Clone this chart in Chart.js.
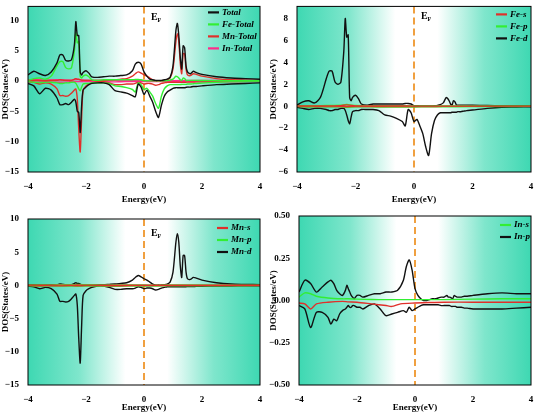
<!DOCTYPE html>
<html><head><meta charset="utf-8">
<script src="https://cdn.jsdelivr.net/npm/chart.js@4.4.0/dist/chart.umd.min.js"></script>
<style>body{margin:0;background:#fff;width:535px;height:413px;position:relative;overflow:hidden}
canvas{position:absolute}</style></head><body>
<canvas id="c1" style="left:0;top:0"></canvas>
<canvas id="c2" style="left:268px;top:0"></canvas>
<canvas id="c3" style="left:0;top:205px"></canvas>
<canvas id="c4" style="left:268px;top:205px"></canvas>
<script>
// fine energy grid (eV)
const E = [-4,-3.8,-3.6,-3.4,-3.2,-3.0,-2.9,-2.8,-2.7,-2.6,-2.5,-2.4,-2.35,-2.3,-2.25,-2.2,-2.15,-2.1,-2.0,-1.9,-1.8,-1.6,-1.4,-1.2,-1.0,-0.8,-0.6,-0.4,-0.3,-0.2,-0.1,0,0.1,0.2,0.3,0.4,0.5,0.6,0.7,0.8,0.9,1.0,1.1,1.15,1.2,1.25,1.3,1.35,1.4,1.45,1.5,1.6,1.7,1.8,2.0,2.5,3.0,3.5,4.0];
// coarse grid for small partial states
const EC = [-4,-3.8,-3.6,-3.4,-3,-2.5,-2.3,-2,-1.5,-1,-0.8,-0.5,0,0.5,1,2,3,4];

const totalUp = [1.0,1.6,1.2,0.9,1.5,3.0,4.3,4.3,3.4,3.3,3.5,6,9.8,7.5,7.5,1.5,1.0,1.4,1.7,1.3,0.7,0.6,0.7,0.8,0.8,0.9,1.0,1.7,2.8,3.1,2.8,1.5,0.8,0.3,0.2,0.1,0.1,0.1,0.2,0.3,0.6,2.5,8.3,9.5,7.5,4,2,5.8,5.5,2.5,1.5,1.2,1.6,1.4,1.1,0.7,0.5,0.4,0.3];
const totalDn = [-0.4,-0.8,-2.1,-1.2,-1.5,-2.8,-3.9,-3.9,-3.7,-3.9,-3.5,-3.0,-3.5,-5,-5.2,-8.5,-4,-1.5,-1.0,-0.6,-0.4,-0.3,-0.3,-0.6,-1.6,-1.8,-2.0,-2.4,-2.6,-0.5,-1.0,-2.2,-1.5,-2.5,-3.5,-5.0,-6.0,-4.0,-2.5,-1.8,-1.5,-1.2,-1.1,-1.1,-1.1,-1.1,-1.1,-1.1,-1.1,-1.05,-1.0,-1.0,-0.9,-0.9,-0.8,-0.6,-0.5,-0.4,-0.3];
const feUp = [0.1,0.4,0.5,0.3,0.8,2.5,3.2,3.2,2.2,2.0,2.2,5,8,6.3,6.5,0.8,0.5,0.8,1.0,0.7,0.2,0.1,0.2,0.2,0.2,0.2,0.2,0.2,0.25,0.25,0.2,0.05,0.05,0.03,0.03,0.03,0.03,0.03,0.05,0.08,0.15,0.3,0.8,0.7,0.5,0.2,0.1,0.5,0.4,0.1,0.1,0.1,0.1,0.1,0.08,0.06,0.05,0.05,0.05];
const feDn = [-0.1,-0.2,-0.3,-0.2,-0.2,-0.3,-0.4,-0.4,-0.3,-0.3,-0.2,-0.2,-0.4,-0.8,-1.3,-1.6,-1.0,-0.5,-0.4,-0.4,-0.3,-0.3,-0.3,-0.4,-0.8,-0.9,-1.1,-1.4,-1.8,-0.3,-0.6,-1.4,-1.2,-1.8,-2.5,-3.7,-4.5,-2.5,-1.3,-0.8,-0.6,-0.6,-0.6,-0.6,-0.6,-0.6,-0.55,-0.55,-0.55,-0.55,-0.5,-0.5,-0.45,-0.4,-0.35,-0.2,-0.1,-0.08,-0.05];
const mnUp = [0.1,0.1,0.05,0.05,0.1,0.1,0.2,0.15,0.1,0.1,0.1,0.3,0.4,0.3,0.3,0.2,0.1,0.1,0.1,0.1,0.1,0.1,0.1,0.15,0.2,0.3,0.4,0.8,1.2,1.5,1.3,1.0,0.8,0.5,0.2,0.05,0.05,0.05,0.1,0.2,0.5,2,6.5,7.8,6.5,3,1.2,4.5,4.5,2,1.0,0.9,1.2,1.1,0.8,0.4,0.2,0.15,0.1];
const mnDn = [-0.1,-0.2,-0.5,-0.3,-0.5,-1.3,-2.4,-2.4,-2.5,-2.4,-2.0,-1.5,-1.3,-3,-8,-11.7,-6,-1.5,-0.8,-0.5,-0.3,-0.1,-0.1,-0.3,-0.6,-0.6,-0.5,-0.5,-0.4,-0.2,-0.3,-0.5,-0.4,-0.4,-0.5,-0.7,-0.6,-0.4,-0.3,-0.2,-0.2,-0.2,-0.2,-0.2,-0.2,-0.2,-0.2,-0.2,-0.2,-0.2,-0.18,-0.17,-0.16,-0.15,-0.13,-0.1,-0.08,-0.06,-0.05];
const inUp = [0.15,0.2,0.2,0.15,0.2,0.15,0.25,0.15,0.1,0.1,0.08,0.1,0.08,0.06,0.07,0.08,0.08,0.08];
const inDn = [-0.1,-0.15,-0.25,-0.12,-0.2,-0.12,-0.1,-0.08,-0.1,-0.15,-0.12,-0.1,-0.1,-0.08,-0.08,-0.1,-0.1,-0.08];
const fesUp = [0.02,0.03,0.03,0.02,0.03,0.05,0.12,0.03,0.02,0.02,0.02,0.02,0.01,0.01,0.01,0.01,0.01,0.01];
const fesDn = [-0.02,-0.03,-0.04,-0.03,-0.03,-0.03,-0.05,-0.03,-0.03,-0.04,-0.04,-0.04,-0.03,-0.03,-0.02,-0.02,-0.01,-0.01];
const fepUp = [0.03,0.05,0.05,0.04,0.06,0.08,0.15,0.06,0.05,0.05,0.04,0.04,0.03,0.02,0.03,0.03,0.02,0.02];
const fepDn = [-0.03,-0.05,-0.08,-0.05,-0.06,-0.06,-0.1,-0.06,-0.06,-0.08,-0.08,-0.08,-0.07,-0.06,-0.05,-0.04,-0.03,-0.02];
const mnsUp = [0.03,0.04,0.03,0.03,0.04,0.03,0.05,0.04,0.03,0.03,0.03,0.03,0.02,0.02,0.02,0.02,0.02,0.02];
const mnsDn = [-0.03,-0.04,-0.06,-0.04,-0.05,-0.04,-0.05,-0.04,-0.04,-0.05,-0.05,-0.04,-0.04,-0.04,-0.03,-0.03,-0.02,-0.02];
const mnpUp = [0.05,0.08,0.06,0.05,0.1,0.1,0.15,0.1,0.08,0.08,0.07,0.07,0.05,0.04,0.06,0.05,0.04,0.03];
const mnpDn = [-0.05,-0.1,-0.15,-0.08,-0.1,-0.1,-0.12,-0.1,-0.1,-0.15,-0.12,-0.1,-0.08,-0.08,-0.06,-0.06,-0.05,-0.04];
const inpUp = [0.05,0.12,0.1,0.05,0.08,0.11,0.12,0.10,0.06,0.04,0.03,0.06,0.09,0.07,0.05,0.03,0.02,0.01,0.03,0.03,0.02,0.03,0.04,0.04,0.05,0.05,0.06,0.12,0.2,0.24,0.18,0.07,0.03,0.01,0.0,0.0,0.005,0.01,0.01,0.015,0.02,0.02,0.03,0.02,0.02,0.015,0.01,0.03,0.025,0.02,0.02,0.02,0.025,0.025,0.03,0.04,0.045,0.04,0.04];
const inpDn = [-0.03,-0.05,-0.16,-0.07,-0.07,-0.1,-0.14,-0.11,-0.12,-0.08,-0.06,-0.05,-0.04,-0.03,-0.04,-0.04,-0.03,-0.03,-0.04,-0.04,-0.05,-0.03,-0.02,-0.05,-0.09,-0.08,-0.07,-0.06,-0.07,-0.04,-0.06,-0.05,-0.04,-0.03,-0.025,-0.025,-0.025,-0.025,-0.025,-0.025,-0.03,-0.03,-0.03,-0.03,-0.03,-0.035,-0.035,-0.035,-0.035,-0.04,-0.04,-0.04,-0.045,-0.045,-0.05,-0.05,-0.05,-0.045,-0.04];
const insUp = [0.02,0.045,0.04,0.025,0.015,0.01,0.01,0.008,0.006,0.005,0.005,0.005,0.005,0.005,0.005,0.008,0.01,0.01];
const insDn = [-0.015,-0.02,-0.05,-0.02,-0.01,-0.005,-0.008,-0.01,-0.02,-0.03,-0.035,-0.02,-0.015,-0.012,-0.01,-0.01,-0.01,-0.01];

const xTicks = [-4,-2,0,2,4];
const yTicks1 = [-15,-10,-5,0,5,10];
const yTicks2 = [-6,-4,-2,0,2,4,6,8];
const yTicks3 = [-15,-10,-5,0,5,10];
const yTicks4 = [-0.5,-0.25,0,0.25,0.5];
const BLACK='#111', GREEN='#33ee33', RED='#e0302a', MAG='#ff2a8a';
const serifB = {family:'"Liberation Serif", serif', weight:'bold', size:9};

function pts(xs, ys){ return xs.map((x,i)=>({x, y:ys[i]})); }
function ds(label, xs, ys, color, legend=true){
  return {label, data:pts(xs,ys), borderColor:color, borderWidth:1.4, pointRadius:0, tension:0.25, fill:false, showLegend:legend};
}

function makeChart(id, w, h, datasets, yMin, yMax, yTicks, pad, yW, xH, legendPos, ef, fmt){
  const cv = document.getElementById(id); cv.width=w; cv.height=h; cv.style.width=w+'px'; cv.style.height=h+'px';
  const plug = {
    id:'deco',
    beforeDatasetsDraw(c){
      const {ctx, chartArea:a} = c;
      const g = ctx.createLinearGradient(a.left,0,a.right,0);
      g.addColorStop(0,'#3ed8b2'); g.addColorStop(0.22,'#7fe6cc'); g.addColorStop(0.42,'#ffffff');
      g.addColorStop(0.6,'#ffffff'); g.addColorStop(0.8,'#7fe6cc'); g.addColorStop(1,'#3ed8b2');
      ctx.save(); ctx.fillStyle=g; ctx.fillRect(a.left,a.top,a.right-a.left,a.bottom-a.top);
      const x0 = c.scales.x.getPixelForValue(0);
      ctx.strokeStyle='#f0a040'; ctx.lineWidth=2; ctx.setLineDash([7,4]);
      ctx.beginPath(); ctx.moveTo(x0,a.top); ctx.lineTo(x0,a.bottom); ctx.stroke();
      ctx.restore();
    },
    afterDatasetsDraw(c){
      const {ctx, chartArea:a} = c;
      ctx.save();
      ctx.strokeStyle='#000'; ctx.lineWidth=1; ctx.strokeRect(a.left,a.top,a.right-a.left,a.bottom-a.top);
      ctx.font='italic bold 9px "Liberation Serif", serif'; ctx.textBaseline='middle';
      let y = a.top + legendPos[1];
      c.data.datasets.forEach(d=>{
        if(!d.showLegend) return;
        const lx = a.right - legendPos[0];
        ctx.strokeStyle=d.borderColor; ctx.lineWidth=2.2;
        ctx.beginPath(); ctx.moveTo(lx,y); ctx.lineTo(lx+11,y); ctx.stroke();
        ctx.fillStyle='#000'; ctx.fillText(d.label, lx+14, y);
        y += 12;
      });
      if(ef){
        const x0 = c.scales.x.getPixelForValue(0);
        ctx.font='bold 10px "Liberation Serif", serif'; ctx.fillStyle='#000';
        ctx.fillText('E', x0+7, a.top+ef);
        ctx.font='bold 6px "Liberation Serif", serif';
        ctx.fillText('F', x0+13.5, a.top+ef+3);
      }
      ctx.restore();
    }
  };
  return new Chart(cv, {
    type:'line',
    data:{datasets},
    plugins:[plug],
    options:{
      responsive:false, animation:false,
      layout:{padding:pad},
      plugins:{legend:{display:false}, tooltip:{enabled:false}},
      scales:{
        x:{type:'linear', min:-4, max:4, afterBuildTicks:s=>{s.ticks=xTicks.map(v=>({value:v}));},
           grid:{display:false, drawTicks:true}, border:{display:false},
           ticks:{font:serifB, color:'#000', padding:1, callback:v=>v<0?'\u2212'+(-v):v},
           title:{display:true, text:'Energy(eV)', font:serifB, color:'#000', padding:0},
           afterFit:s=>{s.height=xH;}},
        y:{min:yMin, max:yMax, afterBuildTicks:s=>{s.ticks=yTicks.map(v=>({value:v}));},
           ticks:{font:serifB, color:'#000', padding:1, callback:fmt},
           grid:{display:false}, border:{display:false},
           title:{display:true, text:'DOS(States/eV)', font:serifB, color:'#000', padding:0},
           afterFit:s=>{s.width=yW;}}
      }
    }
  });
}
const intFmt = v=> v<0?'\u2212'+(-v):''+v;
const decFmt = v=> v<0?'\u2212'+(-v).toFixed(2):v.toFixed(2);

makeChart('c1',268,205,[
  ds('Total',E,totalUp,BLACK), ds('Fe-Total',E,feUp,GREEN), ds('Mn-Total',E,mnUp,RED), ds('In-Total',EC,inUp,MAG),
  ds('Total-dn',E,totalDn,BLACK,false), ds('Fe-dn',E,feDn,GREEN,false), ds('Mn-dn',E,mnDn,RED,false), ds('In-dn',EC,inDn,MAG,false)
],-15,12.3,yTicks1,{top:4,right:8,left:0,bottom:0},28,33,[52,6],11,intFmt);

makeChart('c2',267,205,[
  ds('Fe-s',EC,fesUp,RED), ds('Fe-p',EC,fepUp,GREEN), ds('Fe-d',E,feUp,BLACK),
  ds('s-dn',EC,fesDn,RED,false), ds('p-dn',EC,fepDn,GREEN,false), ds('d-dn',E,feDn,BLACK,false)
],-6,9.1,yTicks2,{top:5,right:4,left:0,bottom:0},29,33,[35,8],10,intFmt);

makeChart('c3',268,208,[
  ds('Mn-s',EC,mnsUp,RED), ds('Mn-p',EC,mnpUp,GREEN), ds('Mn-d',E,mnUp,BLACK),
  ds('s-dn',EC,mnsDn,RED,false), ds('p-dn',EC,mnpDn,GREEN,false), ds('d-dn',E,mnDn,BLACK,false)
],-15,10,yTicks3,{top:14,right:8,left:0,bottom:0},28,28,[43,9],14,intFmt);

makeChart('c4',267,208,[
  ds('In-s',EC,insUp,GREEN), ds('In-p',E,inpUp,BLACK),
  ds('s-dn',EC,insDn,RED,false), ds('p-dn',E,inpDn,BLACK,false)
],-0.5,0.5,yTicks4,{top:11,right:4,left:0,bottom:0},31,28,[31,9],0,decFmt);
</script></body></html>
